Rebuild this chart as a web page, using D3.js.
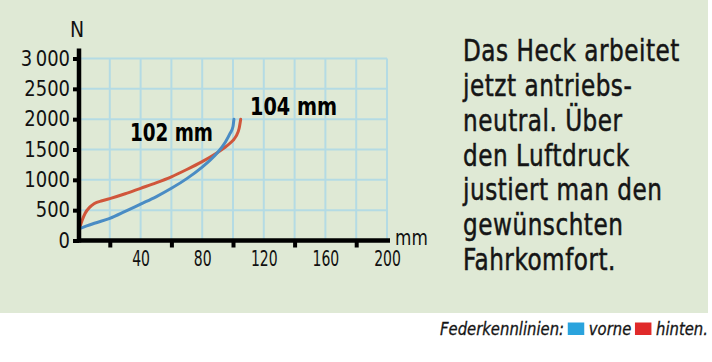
<!DOCTYPE html>
<html>
<head>
<meta charset="utf-8">
<style>
  body { margin: 0; background: #fff; }
  svg text { font-family: "DejaVu Sans Condensed", "DejaVu Sans", sans-serif; }
</style>
<script src="https://cdn.jsdelivr.net/npm/d3@7"></script>
</head>
<body>
<svg id="chart" width="712" height="362"></svg>
<script>
// Federweg (mm) / Kraft (N)
const frontTravel = [0, 5, 10, 20, 30, 40, 50, 60, 70, 80, 85, 90, 95, 98, 100, 100.6];
const frontForce  = [190, 240, 285, 365, 480, 600, 720, 860, 1020, 1210, 1320, 1450, 1620, 1760, 1880, 2000];
const rearTravel  = [0, 2, 4, 7, 10, 15, 20, 30, 40, 50, 60, 70, 80, 90, 96, 100, 102, 104, 105];
const rearForce   = [170, 330, 450, 550, 610, 655, 690, 770, 860, 950, 1050, 1170, 1300, 1450, 1560, 1650, 1720, 1850, 2000];

const yTicks = [0, 500, 1000, 1500, 2000, 2500, 3000];
const yTickLabels = ["0", "500", "1000", "1500", "2000", "2500", "3\u2009000"];
const xTickMarks = [20, 60, 100, 140, 180];
const xTickLabels = [40, 80, 120, 160, 200];
const gridX = [20, 40, 60, 80, 100, 120, 140, 160, 180, 200];
const gridY = [500, 1000, 1500, 2000, 2500, 3000];

const endLabels = ["102 mm", "104 mm"];
const description = ["Das Heck arbeitet", "jetzt antriebs-", "neutral. Über", "den Luftdruck",
                     "justiert man den", "gewünschten", "Fahrkomfort."];
const legendTitle = "Federkennlinien:";
const legendNames = ["vorne", "hinten."];

const svg = d3.select("#chart");
const blue = "#4a8cc4", red = "#d0563b";

svg.append("rect").attr("width", 708).attr("height", 313).attr("fill", "#dfe9d5");

const x = d3.scaleLinear().domain([0, 200]).range([79, 387]);
const y = d3.scaleLinear().domain([0, 3000]).range([240.5, 58.5]);

// Gitter
const grid = svg.append("g").attr("stroke", "#b4dbe4").attr("stroke-width", 2);
grid.selectAll("line.v").data(gridX).enter().append("line")
  .attr("x1", d => x(d)).attr("x2", d => x(d)).attr("y1", y(0)).attr("y2", y(3000));
grid.selectAll("line.h").data(gridY).enter().append("line")
  .attr("y1", d => y(d)).attr("y2", d => y(d)).attr("x1", x(0)).attr("x2", x(200));

// Kurven
const line = d3.line().x(d => x(d[0])).y(d => y(d[1])).curve(d3.curveMonotoneX);
svg.append("path").datum(d3.zip(rearTravel, rearForce)).attr("d", line)
  .attr("fill", "none").attr("stroke", red).attr("stroke-width", 3).attr("stroke-linecap", "round");
svg.append("path").datum(d3.zip(frontTravel, frontForce)).attr("d", line)
  .attr("fill", "none").attr("stroke", blue).attr("stroke-width", 3).attr("stroke-linecap", "round");

const squeeze = (sel, k) => sel.each(function () {
  const w = this.getComputedTextLength();
  d3.select(this).attr("textLength", w * k).attr("lengthAdjust", "spacingAndGlyphs");
});

// Achsen
const yAxis = svg.append("g").attr("transform", `translate(${x(0)},0)`)
  .call(d3.axisLeft(y).tickValues(yTicks).tickSize(6).tickPadding(3)
    .tickFormat((d, i) => yTickLabels[i]));
yAxis.select(".domain").remove();
yAxis.selectAll("line").attr("stroke", "#000").attr("stroke-width", 4);
yAxis.selectAll("text").attr("font-size", 21).attr("fill", "#111")
  .style("font-family", "'DejaVu Sans Condensed', sans-serif").call(squeeze, 0.95);

const xMarks = svg.append("g").attr("transform", `translate(0,${y(0)})`)
  .call(d3.axisBottom(x).tickValues(xTickMarks).tickSize(7).tickFormat(""));
xMarks.select(".domain").remove();
xMarks.selectAll("line").attr("stroke", "#000").attr("stroke-width", 4);

const xLabels = svg.append("g").attr("transform", `translate(0,${y(0)})`)
  .call(d3.axisBottom(x).tickValues(xTickLabels).tickSize(0).tickPadding(11));
xLabels.select(".domain").remove();
xLabels.selectAll("text").attr("font-size", 21).attr("fill", "#111")
  .style("font-family", "'DejaVu Sans Condensed', sans-serif").call(squeeze, 0.74);

svg.append("line").attr("x1", x(0)).attr("x2", x(200) + 3).attr("y1", y(0)).attr("y2", y(0))
  .attr("stroke", "#000").attr("stroke-width", 4.5);
svg.append("line").attr("x1", x(0)).attr("x2", x(0)).attr("y1", y(0) + 2).attr("y2", y(3000) - 10)
  .attr("stroke", "#000").attr("stroke-width", 4.5);

svg.append("text").attr("x", x(0) - 2).attr("y", 36.5).attr("text-anchor", "middle")
  .attr("font-size", 21).attr("fill", "#111").text("N");
svg.append("text").attr("x", 395).attr("y", 245).attr("font-size", 22).attr("fill", "#111")
  .text("mm").call(squeeze, 0.85);

// Endwerte
svg.append("text").attr("x", 130).attr("y", 141).attr("font-size", 25).attr("font-weight", "bold")
  .attr("textLength", 83).attr("lengthAdjust", "spacingAndGlyphs").text(endLabels[0]);
svg.append("text").attr("x", 250).attr("y", 115).attr("font-size", 25).attr("font-weight", "bold")
  .attr("textLength", 87).attr("lengthAdjust", "spacingAndGlyphs").text(endLabels[1]);

// Beschreibung rechts
const desc = svg.append("g");
desc.selectAll("text").data(description).enter().append("text")
  .attr("x", 0).attr("y", (d, i) => 61.5 + i * 34.7)
  .attr("font-size", 30).attr("fill", "#151515").attr("stroke", "#151515").attr("stroke-width", 0.5)
  .style("letter-spacing", "0.6px").text(d => d);
const w0 = desc.select("text").node().getComputedTextLength();
desc.attr("transform", `translate(463,0) scale(${217 / w0},1)`);

// Legende
const leg = svg.append("g");
const legStyle = t => t.attr("font-size", 18).attr("font-style", "italic").attr("fill", "#151515")
  .attr("stroke", "#151515").attr("stroke-width", 0.3);
let cx = 0;
const t0 = leg.append("text").attr("x", cx).attr("y", 335).text(legendTitle).call(legStyle);
cx += t0.node().getComputedTextLength() + 4;
[blue, red].forEach((c, i) => {
  leg.append("rect").attr("x", cx).attr("y", 322.5).attr("width", 18).attr("height", 12.5)
    .attr("fill", i === 0 ? "#2aa3dd" : "#e02a2a");
  cx += 23;
  const t = leg.append("text").attr("x", cx).attr("y", 335).text(legendNames[i]).call(legStyle);
  cx += t.node().getComputedTextLength() + 4;
});
cx -= 4;
const legScale = 268 / cx;
leg.attr("transform", `translate(${708 - cx * legScale},0) scale(${legScale},1)`);
</script>
</body>
</html>
